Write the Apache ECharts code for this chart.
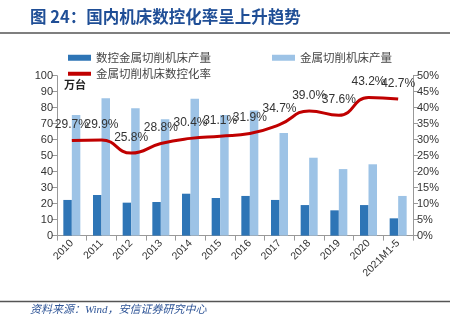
<!DOCTYPE html>
<html><head><meta charset="utf-8">
<script src="https://cdn.jsdelivr.net/npm/echarts@6/dist/echarts.min.js"></script>
<style>html,body{margin:0;padding:0;background:#fff}#c{width:463px;height:332px}</style>
</head><body><div id="c"></div>
<script>
var categories = ['2010','2011','2012','2013','2014','2015','2016','2017','2018','2019','2020','2021M1-5'];
var cncOutput = [22.3, 25.4, 20.6, 21.0, 26.2, 23.5, 24.8, 22.3, 19.1, 15.8, 19.1, 10.8];
var totalOutput = [75.4, 85.9, 79.6, 72.7, 85.6, 75.4, 78.3, 64.2, 48.7, 41.6, 44.6, 24.8];
var cncRate = [29.7, 29.9, 25.8, 28.8, 30.4, 31.1, 31.9, 34.7, 39.0, 37.6, 43.2, 42.7];
var leftTicks = [0, 100, 10];
var rightTicks = [0, 50, 5];

var chart = echarts.init(document.getElementById('c'));
var cjk = '"Noto Sans CJK SC", sans-serif';
var axisFont = 'Liberation Sans, Arial, sans-serif';
chart.setOption({
  animation: false,
  backgroundColor: '#fff',
  graphic: [
    {type:'text', left: 30, top: 8, style:{text:'图 24：国内机床数控化率呈上升趋势', fill:'#1F4E96', font:'bold 16.5px "Noto Sans CJK SC"'}},
    {type:'line', shape:{x1:0,y1:33,x2:450,y2:33}, style:{stroke:'#555', lineWidth:1.5}},
    {type:'line', shape:{x1:0,y1:301.5,x2:450,y2:301.5}, style:{stroke:'#555', lineWidth:1.5}},
    {type:'text', left: 30, top: 305, style:{text:'资料来源：Wind，安信证券研究中心', fill:'#2F5597', font:'italic 11px "Liberation Serif", "Noto Sans CJK SC"'}},
    {type:'text', left: 64, top: 79, style:{text:'万台', fill:'#222', font:'bold 11px "Noto Sans CJK SC"'}}
  ],
  legend: [
    {left: 63, top: 47, itemWidth: 23, itemHeight: 6, icon:'rect', data:['数控金属切削机床产量'], textStyle:{fontSize:11.5, color:'#444', fontFamily:cjk}, itemGap: 4},
    {left: 267, top: 47, itemWidth: 23, itemHeight: 6, icon:'rect', data:['金属切削机床产量'], textStyle:{fontSize:11.5, color:'#444', fontFamily:cjk}},
    {left: 63, top: 63, itemWidth: 23, itemHeight: 4, icon:'rect', data:[{name:'金属切削机床数控化率', itemStyle:{color:'#C00000'}}], textStyle:{fontSize:11.5, color:'#444', fontFamily:cjk}}
  ],
  grid: {left: 57, right: 50, top: 75.7, bottom: 96.4},
  xAxis: {
    type:'category', data: categories,
    axisLine:{lineStyle:{color:'#999'}},
    axisTick:{show:true, alignWithLabel:false, lineStyle:{color:'#999'}},
    axisLabel:{rotate:45, fontSize:10.5, color:'#333', fontFamily:axisFont, interval:0, margin:6}
  },
  yAxis: [
    {type:'value', min:leftTicks[0], max:leftTicks[1], interval:leftTicks[2],
     axisLine:{show:true, lineStyle:{color:'#999'}}, axisTick:{show:true, lineStyle:{color:'#999'}},
     splitLine:{show:false}, axisLabel:{fontSize:11, color:'#333', fontFamily:axisFont, margin:4}},
    {type:'value', min:rightTicks[0], max:rightTicks[1], interval:rightTicks[2], position:'right',
     axisLine:{show:true, lineStyle:{color:'#999'}}, axisTick:{show:true, lineStyle:{color:'#999'}},
     splitLine:{show:false}, axisLabel:{fontSize:11, color:'#333', fontFamily:axisFont, formatter:'{value}%', margin:4}}
  ],
  series: [
    {name:'数控金属切削机床产量', type:'bar', data:cncOutput, barWidth:8.5, barGap:'0%', itemStyle:{color:'#2E75B6'}},
    {name:'金属切削机床产量', type:'bar', data:totalOutput, barWidth:8.5, barGap:'0%', itemStyle:{color:'#9DC3E6'}},
    {name:'金属切削机床数控化率', type:'line', yAxisIndex:1, data:cncRate, smooth:0.5,
     symbol:'circle', symbolSize:1, showSymbol:true,
     lineStyle:{color:'#C00000', width:3}, itemStyle:{color:'rgba(0,0,0,0)', borderWidth:0},
     label:{show:true, position:'top', distance:9, fontSize:12, color:'#333', fontFamily:axisFont,
       formatter:function(p){return p.value.toFixed(1)+'%';}}}
  ]
});
</script></body></html>
